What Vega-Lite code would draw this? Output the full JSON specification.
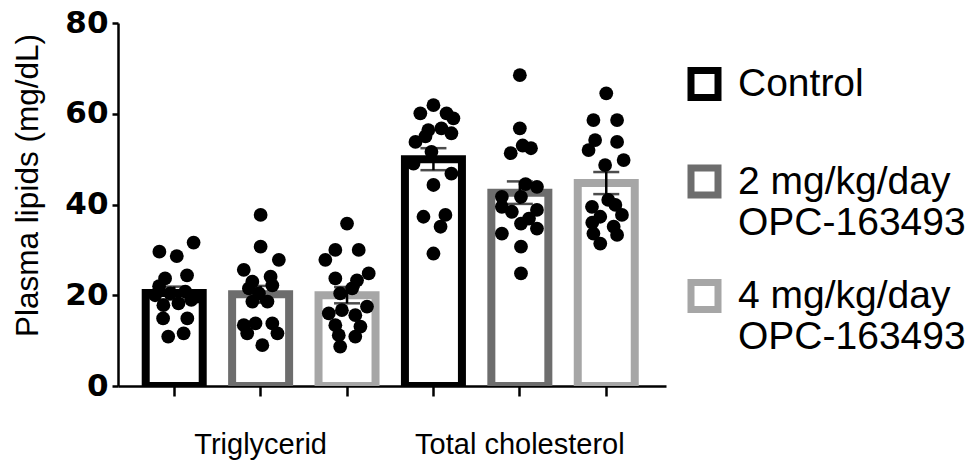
{
  "$schema": "https://vega.github.io/schema/vega-lite/v6.json",
  "width": 548,
  "height": 363,
  "autosize": {"type": "none"},
  "padding": {"left": 118, "top": 23, "right": 310, "bottom": 81},
  "background": "white",
  "config": {
    "view": {"stroke": null},
    "axis": {"grid": false, "domainColor": "black", "tickColor": "black", "labelColor": "black", "titleColor": "black"}
  },
  "data": {
    "values": [
      {"bar": "Triglycerid|Control", "dose": "Control", "mg_dl": 31.6, "spread": 0.68},
      {"bar": "Triglycerid|Control", "dose": "Control", "mg_dl": 29.6, "spread": -0.52},
      {"bar": "Triglycerid|Control", "dose": "Control", "mg_dl": 28.6, "spread": 0.09},
      {"bar": "Triglycerid|Control", "dose": "Control", "mg_dl": 23.7, "spread": -0.32},
      {"bar": "Triglycerid|Control", "dose": "Control", "mg_dl": 24.4, "spread": 0.45},
      {"bar": "Triglycerid|Control", "dose": "Control", "mg_dl": 22.0, "spread": -0.53},
      {"bar": "Triglycerid|Control", "dose": "Control", "mg_dl": 20.0, "spread": -0.67},
      {"bar": "Triglycerid|Control", "dose": "Control", "mg_dl": 20.4, "spread": -0.14},
      {"bar": "Triglycerid|Control", "dose": "Control", "mg_dl": 20.8, "spread": 0.39},
      {"bar": "Triglycerid|Control", "dose": "Control", "mg_dl": 19.7, "spread": 0.8},
      {"bar": "Triglycerid|Control", "dose": "Control", "mg_dl": 19.0, "spread": 0.6},
      {"bar": "Triglycerid|Control", "dose": "Control", "mg_dl": 17.8, "spread": -0.38},
      {"bar": "Triglycerid|Control", "dose": "Control", "mg_dl": 18.2, "spread": 0.15},
      {"bar": "Triglycerid|Control", "dose": "Control", "mg_dl": 14.9, "spread": -0.39},
      {"bar": "Triglycerid|Control", "dose": "Control", "mg_dl": 14.9, "spread": 0.46},
      {"bar": "Triglycerid|Control", "dose": "Control", "mg_dl": 10.9, "spread": -0.21},
      {"bar": "Triglycerid|Control", "dose": "Control", "mg_dl": 11.6, "spread": 0.33},

      {"bar": "Triglycerid|2 mg", "dose": "2 mg/kg/day\nOPC-163493", "mg_dl": 37.7, "spread": 0},
      {"bar": "Triglycerid|2 mg", "dose": "2 mg/kg/day\nOPC-163493", "mg_dl": 30.7, "spread": 0},
      {"bar": "Triglycerid|2 mg", "dose": "2 mg/kg/day\nOPC-163493", "mg_dl": 25.6, "spread": -0.59},
      {"bar": "Triglycerid|2 mg", "dose": "2 mg/kg/day\nOPC-163493", "mg_dl": 27.8, "spread": 0.64},
      {"bar": "Triglycerid|2 mg", "dose": "2 mg/kg/day\nOPC-163493", "mg_dl": 24.1, "spread": 0.35},
      {"bar": "Triglycerid|2 mg", "dose": "2 mg/kg/day\nOPC-163493", "mg_dl": 23.0, "spread": -0.29},
      {"bar": "Triglycerid|2 mg", "dose": "2 mg/kg/day\nOPC-163493", "mg_dl": 21.5, "spread": -0.41},
      {"bar": "Triglycerid|2 mg", "dose": "2 mg/kg/day\nOPC-163493", "mg_dl": 22.2, "spread": 0.41},
      {"bar": "Triglycerid|2 mg", "dose": "2 mg/kg/day\nOPC-163493", "mg_dl": 20.4, "spread": -0.06},
      {"bar": "Triglycerid|2 mg", "dose": "2 mg/kg/day\nOPC-163493", "mg_dl": 18.6, "spread": -0.29},
      {"bar": "Triglycerid|2 mg", "dose": "2 mg/kg/day\nOPC-163493", "mg_dl": 18.6, "spread": 0.24},
      {"bar": "Triglycerid|2 mg", "dose": "2 mg/kg/day\nOPC-163493", "mg_dl": 13.4, "spread": -0.59},
      {"bar": "Triglycerid|2 mg", "dose": "2 mg/kg/day\nOPC-163493", "mg_dl": 13.8, "spread": -0.18},
      {"bar": "Triglycerid|2 mg", "dose": "2 mg/kg/day\nOPC-163493", "mg_dl": 13.8, "spread": 0.41},
      {"bar": "Triglycerid|2 mg", "dose": "2 mg/kg/day\nOPC-163493", "mg_dl": 11.6, "spread": -0.47},
      {"bar": "Triglycerid|2 mg", "dose": "2 mg/kg/day\nOPC-163493", "mg_dl": 11.6, "spread": 0.59},
      {"bar": "Triglycerid|2 mg", "dose": "2 mg/kg/day\nOPC-163493", "mg_dl": 9.0, "spread": 0.06},

      {"bar": "Triglycerid|4 mg", "dose": "4 mg/kg/day\nOPC-163493", "mg_dl": 35.8, "spread": 0},
      {"bar": "Triglycerid|4 mg", "dose": "4 mg/kg/day\nOPC-163493", "mg_dl": 30.0, "spread": -0.41},
      {"bar": "Triglycerid|4 mg", "dose": "4 mg/kg/day\nOPC-163493", "mg_dl": 27.8, "spread": -0.76},
      {"bar": "Triglycerid|4 mg", "dose": "4 mg/kg/day\nOPC-163493", "mg_dl": 30.0, "spread": 0.41},
      {"bar": "Triglycerid|4 mg", "dose": "4 mg/kg/day\nOPC-163493", "mg_dl": 23.7, "spread": -0.41},
      {"bar": "Triglycerid|4 mg", "dose": "4 mg/kg/day\nOPC-163493", "mg_dl": 24.8, "spread": 0.76},
      {"bar": "Triglycerid|4 mg", "dose": "4 mg/kg/day\nOPC-163493", "mg_dl": 23.3, "spread": 0.35},
      {"bar": "Triglycerid|4 mg", "dose": "4 mg/kg/day\nOPC-163493", "mg_dl": 20.4, "spread": -0.24},
      {"bar": "Triglycerid|4 mg", "dose": "4 mg/kg/day\nOPC-163493", "mg_dl": 21.5, "spread": 0.18},
      {"bar": "Triglycerid|4 mg", "dose": "4 mg/kg/day\nOPC-163493", "mg_dl": 16.0, "spread": -0.64},
      {"bar": "Triglycerid|4 mg", "dose": "4 mg/kg/day\nOPC-163493", "mg_dl": 16.7, "spread": -0.18},
      {"bar": "Triglycerid|4 mg", "dose": "4 mg/kg/day\nOPC-163493", "mg_dl": 17.5, "spread": 0.7},
      {"bar": "Triglycerid|4 mg", "dose": "4 mg/kg/day\nOPC-163493", "mg_dl": 15.6, "spread": 0.29},
      {"bar": "Triglycerid|4 mg", "dose": "4 mg/kg/day\nOPC-163493", "mg_dl": 13.4, "spread": -0.41},
      {"bar": "Triglycerid|4 mg", "dose": "4 mg/kg/day\nOPC-163493", "mg_dl": 13.1, "spread": 0.47},
      {"bar": "Triglycerid|4 mg", "dose": "4 mg/kg/day\nOPC-163493", "mg_dl": 11.2, "spread": -0.29},
      {"bar": "Triglycerid|4 mg", "dose": "4 mg/kg/day\nOPC-163493", "mg_dl": 10.9, "spread": 0.29},
      {"bar": "Triglycerid|4 mg", "dose": "4 mg/kg/day\nOPC-163493", "mg_dl": 8.7, "spread": -0.24},

      {"bar": "Total cholesterol|Control", "dose": "Control", "mg_dl": 60.1, "spread": -0.46},
      {"bar": "Total cholesterol|Control", "dose": "Control", "mg_dl": 61.9, "spread": 0},
      {"bar": "Total cholesterol|Control", "dose": "Control", "mg_dl": 60.1, "spread": 0.46},
      {"bar": "Total cholesterol|Control", "dose": "Control", "mg_dl": 55.0, "spread": -0.28},
      {"bar": "Total cholesterol|Control", "dose": "Control", "mg_dl": 59.0, "spread": 0.7},
      {"bar": "Total cholesterol|Control", "dose": "Control", "mg_dl": 56.4, "spread": -0.18},
      {"bar": "Total cholesterol|Control", "dose": "Control", "mg_dl": 56.8, "spread": 0.28},
      {"bar": "Total cholesterol|Control", "dose": "Control", "mg_dl": 55.7, "spread": 0.63},
      {"bar": "Total cholesterol|Control", "dose": "Control", "mg_dl": 53.8, "spread": -0.63},
      {"bar": "Total cholesterol|Control", "dose": "Control", "mg_dl": 51.6, "spread": -0.07},
      {"bar": "Total cholesterol|Control", "dose": "Control", "mg_dl": 49.0, "spread": -0.7},
      {"bar": "Total cholesterol|Control", "dose": "Control", "mg_dl": 46.8, "spread": 0.63},
      {"bar": "Total cholesterol|Control", "dose": "Control", "mg_dl": 44.3, "spread": 0},
      {"bar": "Total cholesterol|Control", "dose": "Control", "mg_dl": 37.3, "spread": -0.35},
      {"bar": "Total cholesterol|Control", "dose": "Control", "mg_dl": 37.7, "spread": 0.42},
      {"bar": "Total cholesterol|Control", "dose": "Control", "mg_dl": 35.1, "spread": 0.25},
      {"bar": "Total cholesterol|Control", "dose": "Control", "mg_dl": 29.2, "spread": 0},

      {"bar": "Total cholesterol|2 mg", "dose": "2 mg/kg/day\nOPC-163493", "mg_dl": 68.5, "spread": 0},
      {"bar": "Total cholesterol|2 mg", "dose": "2 mg/kg/day\nOPC-163493", "mg_dl": 56.8, "spread": 0},
      {"bar": "Total cholesterol|2 mg", "dose": "2 mg/kg/day\nOPC-163493", "mg_dl": 53.0, "spread": 0.1},
      {"bar": "Total cholesterol|2 mg", "dose": "2 mg/kg/day\nOPC-163493", "mg_dl": 51.3, "spread": -0.32},
      {"bar": "Total cholesterol|2 mg", "dose": "2 mg/kg/day\nOPC-163493", "mg_dl": 52.4, "spread": 0.39},
      {"bar": "Total cholesterol|2 mg", "dose": "2 mg/kg/day\nOPC-163493", "mg_dl": 43.9, "spread": 0.6},
      {"bar": "Total cholesterol|2 mg", "dose": "2 mg/kg/day\nOPC-163493", "mg_dl": 44.5, "spread": 0.2},
      {"bar": "Total cholesterol|2 mg", "dose": "2 mg/kg/day\nOPC-163493", "mg_dl": 41.7, "spread": -0.63},
      {"bar": "Total cholesterol|2 mg", "dose": "2 mg/kg/day\nOPC-163493", "mg_dl": 41.7, "spread": 0.04},
      {"bar": "Total cholesterol|2 mg", "dose": "2 mg/kg/day\nOPC-163493", "mg_dl": 39.5, "spread": -0.63},
      {"bar": "Total cholesterol|2 mg", "dose": "2 mg/kg/day\nOPC-163493", "mg_dl": 38.4, "spread": -0.28},
      {"bar": "Total cholesterol|2 mg", "dose": "2 mg/kg/day\nOPC-163493", "mg_dl": 38.8, "spread": 0.6},
      {"bar": "Total cholesterol|2 mg", "dose": "2 mg/kg/day\nOPC-163493", "mg_dl": 36.9, "spread": 0.32},
      {"bar": "Total cholesterol|2 mg", "dose": "2 mg/kg/day\nOPC-163493", "mg_dl": 35.8, "spread": 0.04},
      {"bar": "Total cholesterol|2 mg", "dose": "2 mg/kg/day\nOPC-163493", "mg_dl": 34.7, "spread": 0.6},
      {"bar": "Total cholesterol|2 mg", "dose": "2 mg/kg/day\nOPC-163493", "mg_dl": 33.6, "spread": -0.63},
      {"bar": "Total cholesterol|2 mg", "dose": "2 mg/kg/day\nOPC-163493", "mg_dl": 30.7, "spread": 0.04},
      {"bar": "Total cholesterol|2 mg", "dose": "2 mg/kg/day\nOPC-163493", "mg_dl": 24.8, "spread": 0.04},

      {"bar": "Total cholesterol|4 mg", "dose": "4 mg/kg/day\nOPC-163493", "mg_dl": 64.5, "spread": 0},
      {"bar": "Total cholesterol|4 mg", "dose": "4 mg/kg/day\nOPC-163493", "mg_dl": 58.6, "spread": -0.45},
      {"bar": "Total cholesterol|4 mg", "dose": "4 mg/kg/day\nOPC-163493", "mg_dl": 58.6, "spread": 0.38},
      {"bar": "Total cholesterol|4 mg", "dose": "4 mg/kg/day\nOPC-163493", "mg_dl": 54.2, "spread": -0.39},
      {"bar": "Total cholesterol|4 mg", "dose": "4 mg/kg/day\nOPC-163493", "mg_dl": 53.8, "spread": 0.38},
      {"bar": "Total cholesterol|4 mg", "dose": "4 mg/kg/day\nOPC-163493", "mg_dl": 52.0, "spread": -0.62},
      {"bar": "Total cholesterol|4 mg", "dose": "4 mg/kg/day\nOPC-163493", "mg_dl": 49.8, "spread": 0.61},
      {"bar": "Total cholesterol|4 mg", "dose": "4 mg/kg/day\nOPC-163493", "mg_dl": 48.7, "spread": -0.04},
      {"bar": "Total cholesterol|4 mg", "dose": "4 mg/kg/day\nOPC-163493", "mg_dl": 39.5, "spread": -0.5},
      {"bar": "Total cholesterol|4 mg", "dose": "4 mg/kg/day\nOPC-163493", "mg_dl": 39.9, "spread": 0.32},
      {"bar": "Total cholesterol|4 mg", "dose": "4 mg/kg/day\nOPC-163493", "mg_dl": 41.0, "spread": 0.07},
      {"bar": "Total cholesterol|4 mg", "dose": "4 mg/kg/day\nOPC-163493", "mg_dl": 37.3, "spread": -0.21},
      {"bar": "Total cholesterol|4 mg", "dose": "4 mg/kg/day\nOPC-163493", "mg_dl": 37.7, "spread": 0.55},
      {"bar": "Total cholesterol|4 mg", "dose": "4 mg/kg/day\nOPC-163493", "mg_dl": 36.0, "spread": -0.49},
      {"bar": "Total cholesterol|4 mg", "dose": "4 mg/kg/day\nOPC-163493", "mg_dl": 35.1, "spread": 0.26},
      {"bar": "Total cholesterol|4 mg", "dose": "4 mg/kg/day\nOPC-163493", "mg_dl": 33.6, "spread": -0.45},
      {"bar": "Total cholesterol|4 mg", "dose": "4 mg/kg/day\nOPC-163493", "mg_dl": 33.3, "spread": 0.38},
      {"bar": "Total cholesterol|4 mg", "dose": "4 mg/kg/day\nOPC-163493", "mg_dl": 31.4, "spread": -0.21}
    ]
  },
  "layer": [
    {
      "mark": {"type": "bar", "fill": "white", "strokeWidth": 8, "strokeJoin": "miter", "width": 57, "clip": true},
      "encoding": {
        "x": {
          "field": "bar",
          "type": "nominal",
          "title": null,
          "scale": {
            "domain": ["Triglycerid|Control", "Triglycerid|2 mg", "Triglycerid|4 mg", "Total cholesterol|Control", "Total cholesterol|2 mg", "Total cholesterol|4 mg"],
            "paddingInner": 0.34,
            "paddingOuter": 0.341,
            "align": 0.47
          },
          "axis": {
            "tickSize": 10,
            "tickWidth": 2.5,
            "domainWidth": 2.5,
            "labelExpr": "indexof(datum.value, '|2 mg') > 0 ? split(datum.value, '|')[0] : ''",
            "labelFont": "Liberation Sans",
            "labelFontSize": 29,
            "labelPadding": 34,
            "labelAngle": 0,
            "labelLimit": 400,
            "labelOverlap": false
          }
        },
        "y": {
          "aggregate": "mean",
          "field": "mg_dl",
          "type": "quantitative",
          "title": "Plasma lipids (mg/dL)",
          "scale": {"domain": [0, 80], "nice": false},
          "axis": {
            "values": [0, 20, 40, 60, 80],
            "tickSize": 6,
            "tickWidth": 2.5,
            "domainWidth": 2.5,
            "labelFont": "DejaVu Sans",
            "labelFontWeight": "bold",
            "labelFontSize": 31,
            "labelPadding": 4,
            "titleFont": "Liberation Sans",
            "titleFontSize": 31.5,
            "titleFontWeight": "normal",
            "titleAngle": -90,
            "titleAlign": "center",
            "titleBaseline": "middle",
            "titleX": -90,
            "titleY": 162
          }
        },
        "stroke": {
          "field": "dose",
          "type": "nominal",
          "scale": {
            "domain": ["Control", "2 mg/kg/day\nOPC-163493", "4 mg/kg/day\nOPC-163493"],
            "range": ["#000000", "#6d6d6d", "#a6a6a6"]
          },
          "legend": {
            "orient": "none",
            "legendX": 567,
            "legendY": 17,
            "title": null,
            "padding": 0,
            "symbolType": "square",
            "symbolSize": 729,
            "symbolStrokeWidth": 7,
            "symbolFillColor": "white",
            "labelFont": "Liberation Sans",
            "labelFontSize": 39,
            "labelColor": "black",
            "labelOffset": 14,
            "labelLimit": 400,
            "clipHeight": 88,
            "rowPadding": 9.5,
            "labelExpr": "split(datum.label, '\\n')",
            "encode": {
              "labels": {"update": {"lineHeight": {"value": 48}}},
              "symbols": {
                "update": {
                  "fill": {"value": "white"},
                  "stroke": {"signal": "datum.value === 'Control' ? '#000000' : indexof(datum.value, '2 mg') === 0 ? '#777777' : '#d2d2d2'"}
                }
              }
            }
          }
        }
      }
    },
    {
      "mark": {"type": "circle", "size": 190, "color": "black", "opacity": 1},
      "encoding": {
        "x": {"field": "bar", "type": "nominal", "title": null},
        "xOffset": {"field": "spread", "type": "quantitative", "scale": {"domain": [-1, 1]}},
        "y": {"field": "mg_dl", "type": "quantitative", "title": "Plasma lipids (mg/dL)"}
      }
    },
    {
      "mark": {
        "type": "errorbar",
        "extent": "stderr",
        "color": "black",
        "ticks": {"size": 26, "thickness": 2.5, "color": "black"},
        "rule": {"strokeWidth": 2.5, "color": "black"}
      },
      "encoding": {
        "x": {"field": "bar", "type": "nominal", "title": null},
        "y": {"field": "mg_dl", "type": "quantitative", "title": "Plasma lipids (mg/dL)"}
      }
    }
  ]
}
